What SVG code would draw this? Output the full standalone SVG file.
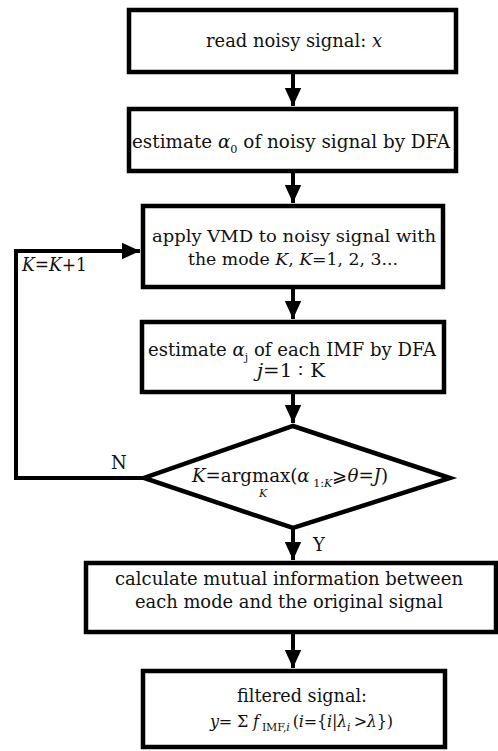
<svg xmlns="http://www.w3.org/2000/svg" width="498" height="751" viewBox="0 0 498 751">
<defs>
<style>
.box{fill:#fff;stroke:#000;stroke-width:4.5}
.ln{fill:none;stroke:#000;stroke-width:4}
.t{font-family:"DejaVu Serif","Liberation Serif",serif;font-size:18px;fill:#111}
.i{font-style:italic}
.s{font-size:11px}
.f{font-size:16px}
.m{font-size:17px}
</style>
<marker id="ah" markerWidth="5" markerHeight="5" refX="4.6" refY="2.5" orient="auto" markerUnits="strokeWidth" viewBox="0 0 5 5">
<path d="M0,0.4 L4.6,2.5 L0,4.6 Z" fill="#000"/>
</marker>
</defs>
<rect width="498" height="751" fill="#fff"/>
<g id="connectors">
<line class="ln" x1="293" y1="73" x2="293" y2="106" marker-end="url(#ah)"/>
<line class="ln" x1="293" y1="172" x2="293" y2="203" marker-end="url(#ah)"/>
<line class="ln" x1="293" y1="287" x2="293" y2="319" marker-end="url(#ah)"/>
<line class="ln" x1="293" y1="392" x2="293" y2="423" marker-end="url(#ah)"/>
<line class="ln" x1="293" y1="528" x2="293" y2="560" marker-end="url(#ah)"/>
<line class="ln" x1="293" y1="633" x2="293" y2="668" marker-end="url(#ah)"/>
<polyline class="ln" points="143,478 16,478 16,251 140,251" marker-end="url(#ah)"/>
<text class="t" x="22" y="271" textLength="65" lengthAdjust="spacingAndGlyphs"><tspan class="i">K</tspan>=<tspan class="i">K</tspan>+1</text>
<text class="t" x="111" y="469">N</text>
<text class="t" x="313" y="551">Y</text>
</g>
<g id="n1">
<rect class="box" x="129" y="10" width="327" height="62"/>
<text class="t" x="206" y="47" textLength="176" lengthAdjust="spacingAndGlyphs">read noisy signal: <tspan class="i">x</tspan></text>
</g>
<g id="n2">
<rect class="box" x="129" y="109" width="327" height="62"/>
<text class="t" x="132" y="148" textLength="318" lengthAdjust="spacingAndGlyphs">estimate <tspan class="i">α</tspan><tspan class="s" dy="5">0</tspan><tspan dy="-5"> of noisy signal by DFA</tspan></text>
</g>
<g id="n3">
<rect class="box" x="143" y="206" width="300" height="81"/>
<text class="t m" x="152" y="242" textLength="284" lengthAdjust="spacingAndGlyphs">apply VMD to noisy signal with</text>
<text class="t m" x="188" y="265" textLength="210" lengthAdjust="spacingAndGlyphs">the mode <tspan class="i">K</tspan>, <tspan class="i">K</tspan>=1, 2, 3...</text>
</g>
<g id="n4">
<rect class="box" x="142" y="322" width="302" height="70"/>
<text class="t" x="148" y="356" textLength="288" lengthAdjust="spacingAndGlyphs">estimate <tspan class="i">α</tspan><tspan class="s" dy="5">j</tspan><tspan dy="-5"> of each IMF by DFA</tspan></text>
<text class="t" x="257" y="377" textLength="68" lengthAdjust="spacingAndGlyphs"><tspan class="i">j</tspan>=1 ∶ K</text>
</g>
<g id="n5">
<polygon class="box" points="293,426 450,478 293,528 144,478"/>
<text class="t" x="192" y="482" textLength="196" lengthAdjust="spacingAndGlyphs"><tspan class="i">K</tspan>=argmax(<tspan class="i">α</tspan><tspan class="s" dy="5"> 1:</tspan><tspan class="s i">K</tspan><tspan dy="-5">⩾</tspan><tspan class="i">θ</tspan>=<tspan class="i">J</tspan>)</text>
<text class="t s i" x="259" y="497">K</text>
</g>
<g id="n6">
<rect class="box" x="86" y="563" width="410" height="69"/>
<text class="t" x="115" y="585" textLength="348" lengthAdjust="spacingAndGlyphs">calculate mutual information between</text>
<text class="t" x="135" y="608" textLength="308" lengthAdjust="spacingAndGlyphs">each mode and the original signal</text>
</g>
<g id="n7">
<rect class="box" x="143" y="671" width="302" height="76"/>
<text class="t" x="237" y="702" textLength="130" lengthAdjust="spacingAndGlyphs">filtered signal:</text>
<text class="t f" x="210" y="727" textLength="183" lengthAdjust="spacing"><tspan class="i">y</tspan>= Σ <tspan class="i">f</tspan><tspan class="s" dy="4"> IMF,</tspan><tspan class="s i">i </tspan><tspan dy="-4">(</tspan><tspan class="i">i</tspan>={<tspan class="i">i</tspan>|<tspan class="i">λ</tspan><tspan class="s i" dy="4">i </tspan><tspan dy="-4">&gt;</tspan><tspan class="i">λ</tspan>})</text>
</g>
</svg>
